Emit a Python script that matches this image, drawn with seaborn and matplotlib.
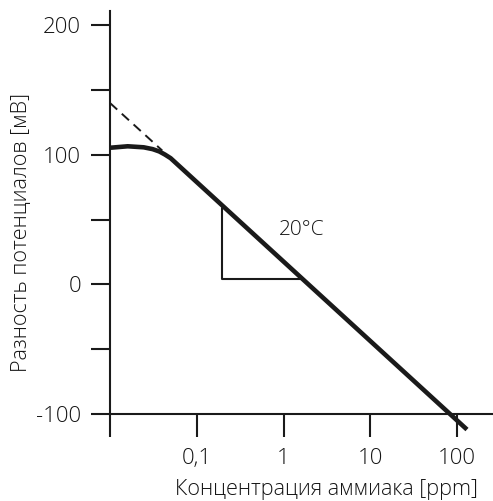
import matplotlib
matplotlib.use("Agg")
import matplotlib.pyplot as plt
import seaborn as sns
import pandas as pd

# ---- data ----
curve_conc = [0.01, 0.0106, 0.016, 0.0245, 0.031, 0.037, 0.043, 0.05, 130.0]
curve_mv = [105.5, 105.6, 106.6, 105.8, 104.4, 102.6, 100.2, 97.4, -112.0]
dash_conc = [0.01, 0.04]
dash_mv = [140.0, 103.3]
tri_conc = [0.197, 0.197, 1.64]
tri_mv = [58.6, 3.9, 3.9]
label_text = "20°C"
label_pos = (0.88, 42.0)
xticks = [0.01, 0.1, 1, 10, 100]
xtick_labels = ["", "0,1", "1", "10", "100"]
yticks = [-100, -50, 0, 50, 100, 150, 200]
ytick_labels = ["-100", "", "0", "", "100", "", "200"]

sns.set_style("ticks")
plt.rcParams["font.family"] = ["Open Sans", "DejaVu Sans"]
plt.rcParams["font.weight"] = "light"
plt.rcParams["axes.labelweight"] = "light"

W, H = 493, 501
fig = plt.figure(figsize=(W / 100, H / 100), dpi=100)
ax = fig.add_axes([110 / W, (H - 414) / H, (493 - 110) / W, (414 - 11) / H])

ink = "#1a1a1a"
txt = "#141414"

curve = pd.DataFrame({"c": curve_conc, "v": curve_mv})
dash = pd.DataFrame({"c": dash_conc, "v": dash_mv})
tri = pd.DataFrame({"c": tri_conc, "v": tri_mv})

sns.lineplot(data=dash, x="c", y="v", ax=ax, color=ink, linewidth=1.4,
             linestyle=(0, (5, 3.2)), sort=False, estimator=None, clip_on=False)
sns.lineplot(data=tri, x="c", y="v", ax=ax, color=ink, linewidth=1.5,
             sort=False, estimator=None)
sns.lineplot(data=curve, x="c", y="v", ax=ax, color=ink, linewidth=3.3,
             sort=False, estimator=None, clip_on=False, solid_capstyle="butt")

ax.set_xscale("log")
ax.set_xlim(0.01, 10 ** (2 + 36 / 87))
ax.set_ylim(-100, 211)

ax.set_xticks(xticks)
ax.set_xticklabels(xtick_labels)
ax.set_yticks(yticks)
ax.set_yticklabels(ytick_labels)
ax.xaxis.set_minor_locator(matplotlib.ticker.NullLocator())

ax.tick_params(axis="x", direction="out", length=16.5, width=1.5, color=ink,
               labelsize=16, labelcolor=txt, pad=8)
ax.tick_params(axis="y", direction="out", length=13.7, width=1.5, color=ink,
               labelsize=16, labelcolor=txt, pad=7)

for s in ["top", "right"]:
    ax.spines[s].set_visible(False)
for s in ["left", "bottom"]:
    ax.spines[s].set_linewidth(1.5)
    ax.spines[s].set_color(ink)

ax.set_xlabel("Концентрация аммиака [ppm]", fontsize=15.6, color=txt)
ax.set_ylabel("Разность потенциалов [мВ]", fontsize=15.6, color=txt)
ax.xaxis.set_label_coords((326 - 110) / (493 - 110), -(490 - 414) / (414 - 11))
ax.yaxis.set_label_coords(-(110 - 22) / (493 - 110), (414 - 232) / (414 - 11))
ax.xaxis.label.set_va("center")
ax.yaxis.label.set_va("center")

ax.text(label_pos[0], label_pos[1], label_text, fontsize=15, color=txt,
        ha="left", va="center")

fig.savefig("out.png", dpi=100)
